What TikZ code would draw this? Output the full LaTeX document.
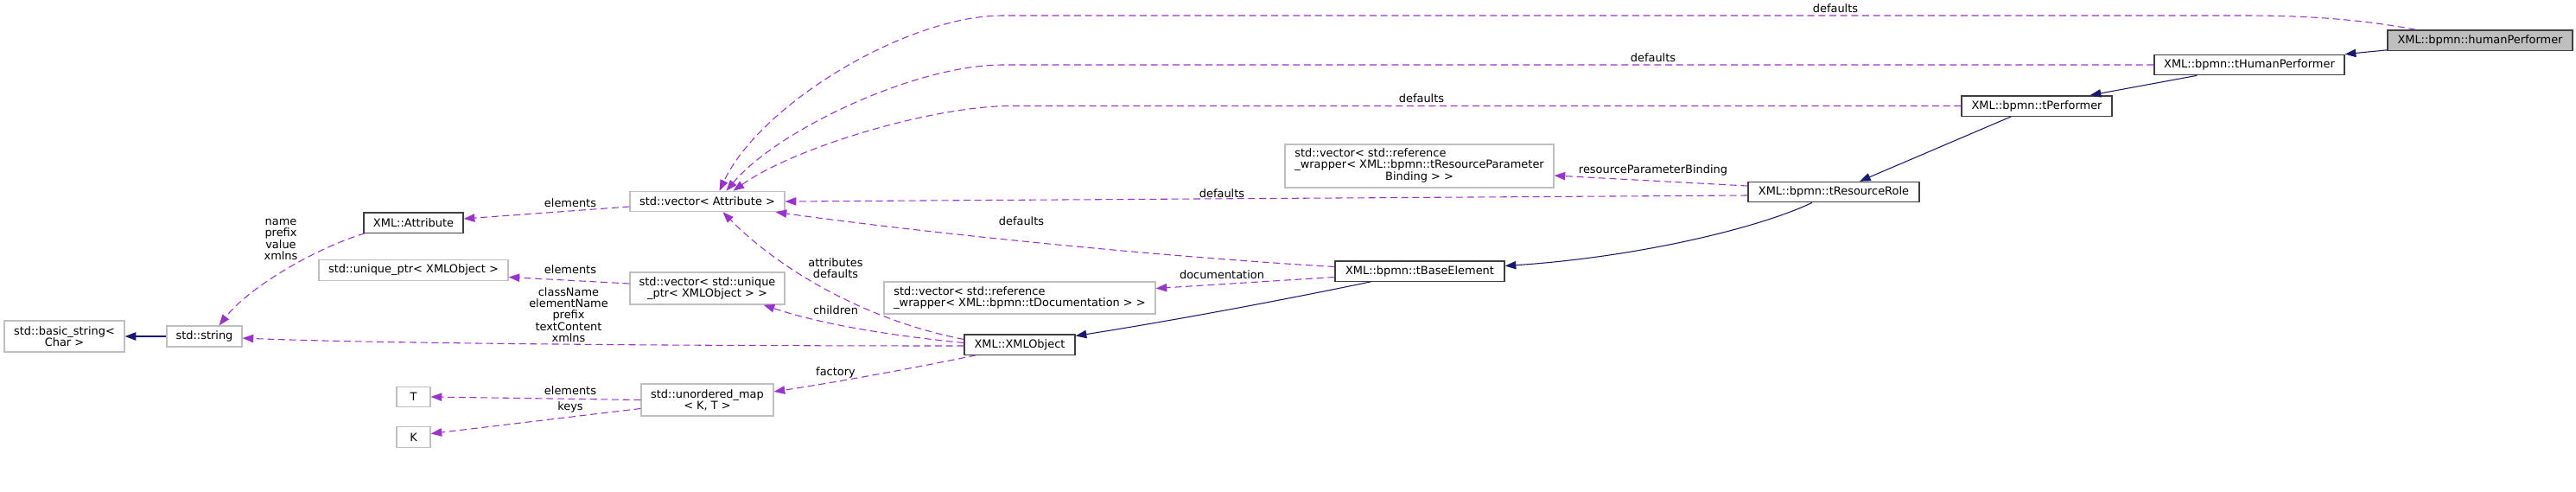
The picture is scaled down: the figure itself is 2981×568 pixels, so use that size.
\documentclass[tikz,border=0pt]{standalone}
\usepackage{fontspec}
\setmainfont{DejaVu Sans}
\usepackage{xcolor}
\definecolor{DoxPurple}{HTML}{9A32CD}
\definecolor{DoxNavy}{HTML}{191970}
\definecolor{DoxGrey}{HTML}{BFBFBF}
\definecolor{DoxDark}{HTML}{404040}
\usepackage{tikz}
\usetikzlibrary{calc, arrows.meta}

\begin{document}
\begin{tikzpicture}[x=0.75pt, y=-0.75pt,
  every node/.style={font=\fontsize{9.7}{10}\selectfont, inner xsep=1pt, inner ysep=1pt},
  cls/.style={draw=DoxDark, line width=1pt, fill=white, minimum height=17.5pt},
  ext/.style={draw=DoxGrey, line width=0.9pt, fill=white, minimum height=17.5pt},
  lbl/.style={inner sep=0pt, align=center},
  usage/.style={DoxPurple, line width=0.8pt, dash pattern=on 6pt off 3.5pt,
                -{Triangle[length=9.5pt, width=7pt]}},
  inherit/.style={DoxNavy, line width=0.8pt, -{Triangle[length=9.5pt, width=7pt]}}]
  \useasboundingbox (0,0) rectangle (2981,568);
  \fill[white] (0,0) rectangle (2981,568);

  %% documented classes
  \node[cls, fill=DoxGrey, minimum width=160.5pt] (hp) at (2870,46.5) {XML::bpmn::humanPerformer};
  \node[cls, minimum width=165pt] (thp) at (2603,75) {XML::bpmn::tHumanPerformer};
  \node[cls, minimum width=130.5pt] (tperf) at (2357,122.5) {XML::bpmn::tPerformer};
  \node[cls, minimum width=148.5pt] (trole) at (2122,222) {XML::bpmn::tResourceRole};
  \node[cls, minimum width=147pt] (tbase) at (1643,313.5) {XML::bpmn::tBaseElement};
  \node[cls, minimum width=96pt] (xmlobj) at (1180,398.5) {XML::XMLObject};
  \node[cls, minimum width=86.25pt] (attr) at (478.5,257.5) {XML::Attribute};

  %% external types
  \node[ext, minimum width=134.25pt] (vecattr) at (818.5,233) {std::vector< Attribute >};
  \node[ext, minimum width=233.25pt, minimum height=37.5pt] (rpb) at (1642.5,192)
    {\begin{tabular}{@{}l@{}}std::vector< std::reference\\\_wrapper< XML::bpmn::tResourceParameter\\
     \multicolumn{1}{@{}c@{}}{Binding > >}\end{tabular}};
  \node[ext, minimum width=235.5pt, minimum height=27.75pt, align=left] (doc) at (1180,344.5)
    {std::vector< std::reference\\\_wrapper< XML::bpmn::tDocumentation > >};
  \node[ext, minimum width=134.25pt, minimum height=27.75pt, align=center] (vecuptr) at (818.5,333.5)
    {std::vector< std::unique\\\_ptr< XMLObject > >};
  \node[ext, minimum width=164.25pt] (uptr) at (478.5,312.5) {std::unique\_ptr< XMLObject >};
  \node[ext, minimum width=114.75pt, minimum height=27.75pt, align=center] (umap) at (818.5,462.5)
    {std::unordered\_map\\< K, T >};
  \node[ext, minimum width=104.25pt, minimum height=27pt, align=center] (bstr) at (74.5,389)
    {std::basic\_string<\\Char >};
  \node[ext, minimum width=65.25pt, minimum height=18pt] (str) at (236.5,389) {std::string};
  \node[ext, minimum width=29.25pt] (tT) at (478.5,459) {T};
  \node[ext, minimum width=29.25pt] (tK) at (478.5,505.5) {K};

  %% usage (dashed)
  \draw[usage] ($(hp.north west)+(33,0)$) .. controls (2740,24) and (2680,18) .. (2600,18)
    -- (1160,18) .. controls (1050,18) and (880,120) .. ($(vecattr.north)+(14,0)$);
  \draw[usage] (thp.west) -- (1160,75) .. controls (1060,75) and (900,150) .. ($(vecattr.north)+(22,0)$);
  \draw[usage] (tperf.west) -- (1170,122.5) .. controls (1080,122.5) and (920,170) .. ($(vecattr.north)+(30,0)$);
  \draw[usage] ($(trole.west)+(0,4)$) -- (vecattr.east);
  \draw[usage] ($(trole.west)+(0,-7)$) -- ($(rpb.east)+(0,11)$);
  \draw[usage] ($(tbase.west)+(0,-5)$) .. controls (1330,296) and (1060,268) .. ($(vecattr.south east)+(-11,0)$);
  \draw[usage] ($(tbase.west)+(0,7)$) -- ($(doc.east)+(0,-11)$);
  \draw[usage] ($(xmlobj.west)+(0,-6)$) .. controls (1000,370) and (900,310) .. ($(vecattr.south)+(18,0)$);
  \draw[usage] ($(xmlobj.west)+(0,-2)$) .. controls (1030,388) and (950,375) .. ($(vecuptr.south east)+(-25,0)$);
  \draw[usage] ($(xmlobj.west)+(0,1.5)$) .. controls (700,400) and (400,396) .. ($(str.east)+(0,2)$);
  \draw[usage] ($(xmlobj.south west)+(14,0)$) .. controls (1060,425) and (980,440) .. ($(umap.east)+(0,-9.5)$);
  \draw[usage] ($(attr.south west)+(2,0)$) .. controls (370,285) and (290,330) .. ($(str.north)+(17,0)$);
  \draw[usage] ($(vecattr.west)+(0,6)$) -- ($(attr.east)+(0,-4.5)$);
  \draw[usage] ($(vecuptr.west)+(0,-5.5)$) -- ($(uptr.east)+(0,8)$);
  \draw[usage] (umap.west) -- (tT.east);
  \draw[usage] ($(umap.west)+(0,10)$) -- ($(tK.east)+(0,-4)$);

  %% inheritance
  \draw[inherit] ($(hp.south west)+(0,-1)$) -- (thp.north east);
  \draw[inherit] ($(thp.south west)+(50,0)$) -- ($(tperf.north east)+(-26,0)$);
  \draw[inherit] ($(tperf.south west)+(58,0)$) -- ($(trole.north)+(30,0)$);
  \draw[inherit] ($(trole.south)+(-25,0)$) .. controls (2040,262) and (1900,297) .. ($(tbase.east)+(0,-6)$);
  \draw[inherit] ($(tbase.south west)+(42,0)$) .. controls (1480,348) and (1350,372) .. ($(xmlobj.east)+(0,-10)$);
  \draw[inherit] (str.west) -- (bstr.east);

  %% edge labels
  \foreach \lx/\ly [count=\i] in {2124/10, 1913/67, 1645/114, 1414/224, 1182/256}
    \node[lbl] (defaults\i) at (\lx,\ly) {defaults};
  \node[lbl] (resparam) at (1913,197) {resourceParameterBinding};
  \node[lbl] (docu) at (1414,318) {documentation};
  \node[lbl] (attrdef) at (967,310.5) {attributes\\defaults};
  \node[lbl] (children) at (967,359) {children};
  \node[lbl] (factory) at (967,431) {factory};
  \node[lbl] (strfields) at (658,364) {className\\elementName\\prefix\\textContent\\xmlns};
  \node[lbl] (attrfields) at (325,277) {name\\prefix\\value\\xmlns};
  \node[lbl] (elem1) at (660,235) {elements};
  \node[lbl] (elem2) at (660,312) {elements};
  \node[lbl] (elem3) at (660,452) {elements};
  \node[lbl] (keys) at (660,471) {keys};
\end{tikzpicture}
\end{document}
